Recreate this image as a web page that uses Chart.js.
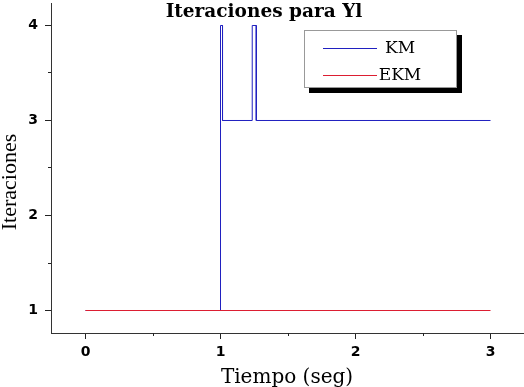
<!DOCTYPE html>
<html>
<head>
<meta charset="utf-8">
<script src="https://cdn.jsdelivr.net/npm/chart.js@4"></script>
<style>
html,body{margin:0;padding:0;background:#fff;}
canvas{display:block;}
</style>
</head>
<body>
<canvas id="c" width="524" height="387"></canvas>
<script>
// ---- data ----
const chartTitle = "Iteraciones para Yl";
const xTitle = "Tiempo (seg)";
const yTitle = "Iteraciones";
const seriesNames = ["KM", "EKM"];
const kmTime = [0, 1, 1, 1.015, 1.015, 1.235, 1.235, 1.265, 1.265, 3];
const kmIter = [1, 1, 4, 4, 3, 3, 4, 4, 3, 3];
const ekmTime = [0, 3];
const ekmIter = [1, 1];
const xTicks = [0, 1, 2, 3];
const xMinorTicks = [0.5, 1.5, 2.5];
const yTicks = [1, 2, 3, 4];
const yMinorTicks = [1.5, 2.5, 3.5];

const toPts = (xs, ys) => xs.map((x, i) => ({x: x, y: ys[i]}));
const blue = 'rgb(32,32,192)';
const red = 'rgb(220,30,50)';

const overlay = {
  id: 'overlay',
  afterDraw(chart) {
    const ctx = chart.ctx;
    const xs = chart.scales.x, ys = chart.scales.y;
    const ca = chart.chartArea;
    ctx.save();
    // minor ticks
    ctx.strokeStyle = '#222';
    ctx.lineWidth = 1;
    yMinorTicks.forEach(v => {
      const p = Math.floor(ys.getPixelForValue(v)) + 0.5;
      ctx.beginPath(); ctx.moveTo(ca.left - 3, p); ctx.lineTo(ca.left, p); ctx.stroke();
    });
    xMinorTicks.forEach(v => {
      const p = Math.floor(xs.getPixelForValue(v)) + 0.5;
      ctx.beginPath(); ctx.moveTo(p, ca.bottom); ctx.lineTo(p, ca.bottom + 3); ctx.stroke();
    });
    // title
    ctx.fillStyle = '#000';
    ctx.textAlign = 'center';
    ctx.textBaseline = 'alphabetic';
    ctx.font = 'bold 18.5px "DejaVu Serif"';
    ctx.fillText(chartTitle, 264, 17);
    // x title
    ctx.font = '20px "DejaVu Serif"';
    ctx.fillText(xTitle, 287, 383);
    // y title
    ctx.save();
    ctx.translate(16, 182);
    ctx.rotate(-Math.PI / 2);
    ctx.font = '22px "Liberation Serif"';
    ctx.fillText(yTitle, 0, 0);
    ctx.restore();
    // legend box with shadow
    const bx = 304, by = 30, bw = 153, bh = 58;
    ctx.fillStyle = '#000';
    ctx.fillRect(bx + 5, by + 5, bw, bh);
    ctx.fillStyle = '#fff';
    ctx.fillRect(bx, by, bw, bh);
    ctx.strokeStyle = '#999';
    ctx.strokeRect(bx + 0.5, by + 0.5, bw - 1, bh - 1);
    // legend sample lines
    ctx.fillStyle = blue;
    ctx.fillRect(323, 48, 54, 1);
    ctx.fillStyle = red;
    ctx.fillRect(323, 75, 54, 1);
    // legend texts
    ctx.fillStyle = '#000';
    ctx.font = '17px "DejaVu Serif"';
    ctx.textAlign = 'center';
    ctx.textBaseline = 'middle';
    ctx.fillText(seriesNames[0], 400, 49);
    ctx.fillText(seriesNames[1], 400, 76);
    ctx.restore();
  }
};

new Chart(document.getElementById('c'), {
  type: 'scatter',
  data: {
    datasets: [
      {label: seriesNames[1], data: toPts(ekmTime, ekmIter), showLine: true, borderColor: red, borderWidth: 1, pointRadius: 0, order: 0},
      {label: seriesNames[0], data: toPts(kmTime, kmIter), showLine: true, borderColor: blue, borderWidth: 1, pointRadius: 0, order: 1}
    ]
  },
  options: {
    responsive: false,
    animation: false,
    devicePixelRatio: 1,
    layout: {padding: {top: 3, right: 1, left: 0, bottom: 0}},
    plugins: {legend: {display: false}, tooltip: {enabled: false}, title: {display: false}},
    scales: {
      x: {
        type: 'linear', min: -0.2556, max: 3.2407,
        afterBuildTicks: s => { s.ticks = xTicks.map(v => ({value: v})); },
        afterFit: s => { s.height = 54; s.paddingLeft = 0; s.paddingRight = 0; },
        grid: {drawOnChartArea: false, drawTicks: true, tickLength: 6, color: '#222'},
        border: {display: true, color: '#333', width: 1},
        ticks: {color: '#000', font: {family: 'DejaVu Sans', weight: 'bold', size: 14}, padding: 5, maxRotation: 0}
      },
      y: {
        type: 'linear', min: 0.7632, max: 4.2368,
        afterBuildTicks: s => { s.ticks = yTicks.map(v => ({value: v})); },
        afterFit: s => { s.width = 51; s.paddingTop = 0; s.paddingBottom = 0; },
        grid: {drawOnChartArea: false, drawTicks: true, tickLength: 6, color: '#222'},
        border: {display: true, color: '#333', width: 1},
        ticks: {color: '#000', font: {family: 'DejaVu Sans', weight: 'bold', size: 14}, padding: 7}
      }
    }
  },
  plugins: [overlay]
});
</script>
</body>
</html>
